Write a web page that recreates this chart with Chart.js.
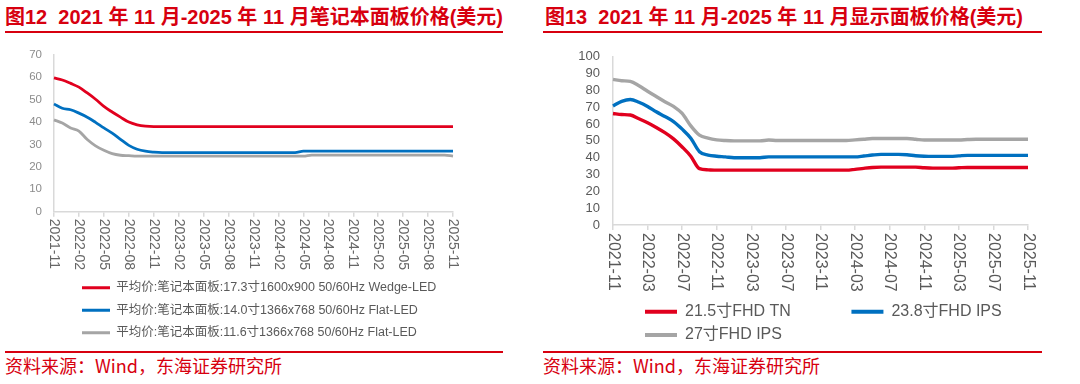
<!DOCTYPE html>
<html><head><meta charset="utf-8">
<script src="https://cdn.jsdelivr.net/npm/chart.js@4.4.1/dist/chart.umd.min.js"></script>
<style>
html,body{margin:0;padding:0;background:#fff;}
body{width:1080px;height:384px;position:relative;overflow:hidden;}
.title{position:absolute;top:6px;font:bold 20px "Liberation Sans","Noto Sans CJK SC",sans-serif;color:#D7000F;white-space:pre;line-height:22px;}
.rule{position:absolute;height:2px;background:#D7000F;}
.src{position:absolute;top:355px;font:18px "Noto Sans CJK SC",sans-serif;color:#D7000F;line-height:20px;white-space:pre;}
canvas{position:absolute;}
</style></head><body>
<div class="title" style="left:5px">图12  2021 年 11 月-2025 年 11 月笔记本面板价格(美元)</div>
<div class="title" style="left:545px">图13  2021 年 11 月-2025 年 11 月显示面板价格(美元)</div>
<div class="rule" style="left:5px;width:498px;top:31px"></div>
<div class="rule" style="left:543px;width:499px;top:31px"></div>
<canvas id="c1" width="540" height="312" style="left:0;top:36px"></canvas>
<canvas id="c2" width="540" height="312" style="left:540px;top:36px"></canvas>
<div class="rule" style="left:5px;width:498px;top:351px"></div>
<div class="rule" style="left:543px;width:499px;top:351px"></div>
<div class="src" style="left:5px">资料来源：Wind，东海证券研究所</div>
<div class="src" style="left:543px">资料来源：Wind，东海证券研究所</div>
<script>
const months = ["2021-11","2021-12","2022-01","2022-02","2022-03","2022-04","2022-05","2022-06","2022-07","2022-08","2022-09","2022-10","2022-11","2022-12","2023-01","2023-02","2023-03","2023-04","2023-05","2023-06","2023-07","2023-08","2023-09","2023-10","2023-11","2023-12","2024-01","2024-02","2024-03","2024-04","2024-05","2024-06","2024-07","2024-08","2024-09","2024-10","2024-11","2024-12","2025-01","2025-02","2025-03","2025-04","2025-05","2025-06","2025-07","2025-08","2025-09","2025-10","2025-11"];

// Figure 12: notebook panels (USD)
const nbLabels = ["平均价:笔记本面板:17.3寸1600x900 50/60Hz Wedge-LED","平均价:笔记本面板:14.0寸1366x768 50/60Hz Flat-LED","平均价:笔记本面板:11.6寸1366x768 50/60Hz Flat-LED"];
const nb173 = [59.7,58.8,57.3,55.6,53.0,50.2,47.0,44.5,42.2,40.0,38.8,38.2,38.0,38.0,38.0,38.0,38.0,38.0,38.0,38.0,38.0,38.0,38.0,38.0,38.0,38.0,38.0,38.0,38.0,38.0,38.0,38.0,38.0,38.0,38.0,38.0,38.0,38.0,38.0,38.0,38.0,38.0,38.0,38.0,38.0,38.0,38.0,38.0,38.0];
const nb140 = [48.1,46.2,45.5,44.0,42.2,39.9,37.4,35.1,32.3,29.6,27.9,27.0,26.6,26.4,26.4,26.4,26.4,26.4,26.4,26.4,26.4,26.4,26.4,26.4,26.4,26.4,26.4,26.4,26.4,26.4,27.0,27.0,27.0,27.0,27.0,27.0,27.0,27.0,27.0,27.0,27.0,27.0,27.0,27.0,27.0,27.0,27.0,27.0,27.0];
const nb116 = [41.0,39.6,37.4,36.0,32.2,29.4,27.4,25.9,25.2,25.0,24.8,24.8,24.8,24.8,24.8,24.8,24.8,24.8,24.8,24.8,24.8,24.8,24.8,24.8,24.8,24.8,24.8,24.8,24.8,24.8,24.8,25.3,25.3,25.3,25.3,25.3,25.3,25.3,25.3,25.3,25.3,25.3,25.3,25.3,25.3,25.3,25.3,25.3,24.8];
const nbTicks = [0,10,20,30,40,50,60,70];

// Figure 13: monitor panels (USD)
const monLabels = ["21.5寸FHD TN","23.8寸FHD IPS","27寸FHD IPS"];
const mon215 = [66.3,65.7,65.4,63.2,60.8,58.0,54.9,51.2,46.4,40.9,33.5,32.8,32.6,32.6,32.6,32.6,32.6,32.6,32.6,32.6,32.6,32.6,32.6,32.6,32.6,32.6,32.6,32.6,33.1,33.7,34.2,34.4,34.4,34.4,34.4,34.4,34.0,33.8,33.8,33.8,34.0,34.2,34.2,34.2,34.2,34.2,34.2,34.2,34.2];
const mon238 = [70.8,73.5,74.6,73.0,70.5,67.3,64.5,61.5,57.0,51.6,43.6,41.6,40.9,40.5,40.0,40.0,40.0,40.0,40.5,40.5,40.5,40.5,40.5,40.5,40.5,40.5,40.5,40.5,40.5,41.0,41.6,42.0,42.0,42.0,41.8,41.2,40.9,40.8,40.8,40.8,41.1,41.4,41.4,41.4,41.4,41.4,41.4,41.4,41.4];
const mon27 = [86.6,85.8,85.4,82.8,79.5,76.4,73.3,70.5,66.3,58.9,53.4,51.6,50.6,50.2,50.0,50.0,50.0,50.0,50.5,50.2,50.2,50.2,50.2,50.2,50.2,50.2,50.2,50.2,50.6,51.0,51.4,51.4,51.4,51.4,51.4,51.0,50.5,50.5,50.5,50.5,50.5,50.8,51.0,51.0,51.0,51.0,51.0,51.0,51.0];
const monTicks = [0,10,20,30,40,50,60,70,80,90,100];

const RED = '#E1001E', BLUE = '#0070C0', GRAY = '#A5A5A5', AXIS = '#D9D9D9';
const FAM = '"Liberation Sans", "Noto Sans CJK SC", Arial, sans-serif';
Chart.defaults.font.family = FAM;

function rotLabels(size, color, every, gap) {
  return {
    id: 'rotLabels',
    afterDraw(chart) {
      const s = chart.scales.x, c = chart.ctx;
      c.save();
      c.font = size + 'px ' + FAM;
      c.fillStyle = color;
      c.textAlign = 'left';
      c.textBaseline = 'middle';
      chart.data.labels.forEach((lab, i) => {
        if (i % every) return;
        const x = s.getPixelForTick(i);
        c.save();
        c.translate(x, s.top + gap);
        c.rotate(Math.PI / 2);
        c.fillText(lab, 0, 0);
        c.restore();
      });
      c.restore();
    }
  };
}
function moveLegend(left, topShift) {
  return {
    id: 'moveLegend',
    afterLayout(chart) {
      const lg = chart.legend;
      const d = left - lg.left;
      lg.left += d; lg.right += d;
      lg.top += topShift; lg.bottom += topShift;
    }
  };
}
function legendItems(chart) {
  return chart.data.datasets.map((ds, i) => ({
    text: ds.legendText || ds.label, fillStyle: ds.borderColor, strokeStyle: ds.borderColor,
    lineWidth: 0, hidden: false, datasetIndex: i, fontColor: '#595959'
  }));
}
function line(label, data, color, w, extra) {
  return Object.assign({label, data, borderColor: color, backgroundColor: color, borderWidth: w,
    pointRadius: 0, cubicInterpolationMode: 'monotone', fill: false}, extra || {});
}

new Chart(document.getElementById('c1'), {
  type: 'line',
  data: {
    labels: months,
    datasets: [
      line(nbLabels[0], nb173, RED, 2.8),
      line(nbLabels[1], nb140, BLUE, 2.8),
      line(nbLabels[2], nb116, GRAY, 2.8)
    ]
  },
  options: {
    responsive: false, animation: false,
    layout: {padding: {left: 0, right: 87, top: 14.7, bottom: 0}},
    plugins: {
      tooltip: {enabled: false},
      legend: {
        position: 'bottom', align: 'start',
        labels: {boxWidth: 28, boxHeight: 3, padding: 10, color: '#595959',
          font: {size: 12.5}, generateLabels: legendItems}
      }
    },
    scales: {
      x: {
        offset: false,
        grid: {display: true, drawOnChartArea: false, drawTicks: true, tickLength: 5,
          color: c => (c.index % 3 === 0 ? AXIS : 'rgba(0,0,0,0)'), lineWidth: 1.5},
        border: {display: true, color: AXIS, width: 1.5},
        ticks: {autoSkip: false, minRotation: 90, maxRotation: 90, color: 'rgba(0,0,0,0)',
          callback: (v, i) => (i % 3 === 0 ? months[i] : '')},
        afterFit: s => { s.height = 58.8; }
      },
      y: {
        min: nbTicks[0], max: nbTicks[nbTicks.length - 1],
        afterBuildTicks: s => { s.ticks = nbTicks.map(v => ({value: v})); },
        ticks: {autoSkip: false, padding: 12, color: '#8C8C8C', font: {size: 11.5}},
        grid: {display: false, drawTicks: false},
        border: {display: true, color: AXIS, width: 1.5},
        afterFit: s => { s.width = 54; }
      }
    }
  },
  plugins: [rotLabels(14, '#666666', 3, 7), moveLegend(72, 1)]
});

new Chart(document.getElementById('c2'), {
  type: 'line',
  data: {
    labels: months,
    datasets: [
      line(monLabels[0], mon215, RED, 3.4, {legendText: monLabels[0] + '            '}),
      line(monLabels[1], mon238, BLUE, 3.4),
      line(monLabels[2], mon27, GRAY, 3.4)
    ]
  },
  options: {
    responsive: false, animation: false,
    layout: {padding: {left: 0, right: 52, top: 8, bottom: 0}},
    plugins: {
      tooltip: {enabled: false},
      legend: {
        position: 'bottom', align: 'start',
        labels: {boxWidth: 32, boxHeight: 4, padding: 7.3, color: '#595959',
          font: {size: 16}, generateLabels: legendItems}
      }
    },
    scales: {
      x: {
        offset: false,
        grid: {display: true, drawOnChartArea: false, drawTicks: true, tickLength: 5,
          color: c => (c.index % 4 === 0 ? AXIS : 'rgba(0,0,0,0)'), lineWidth: 1.5},
        border: {display: true, color: AXIS, width: 1.5},
        ticks: {autoSkip: false, minRotation: 90, maxRotation: 90, color: 'rgba(0,0,0,0)',
          callback: (v, i) => (i % 4 === 0 ? months[i] : '')},
        afterFit: s => { s.height = 66.4; }
      },
      y: {
        min: monTicks[0], max: monTicks[monTicks.length - 1],
        afterBuildTicks: s => { s.ticks = monTicks.map(v => ({value: v})); },
        ticks: {autoSkip: false, padding: 13, color: '#595959', font: {size: 13}},
        grid: {display: false, drawTicks: false},
        border: {display: true, color: AXIS, width: 1.5},
        afterFit: s => { s.width = 73; }
      }
    }
  },
  plugins: [rotLabels(16, '#595959', 4, 8), moveLegend(97.7, 5)]
});
</script>
</body></html>
